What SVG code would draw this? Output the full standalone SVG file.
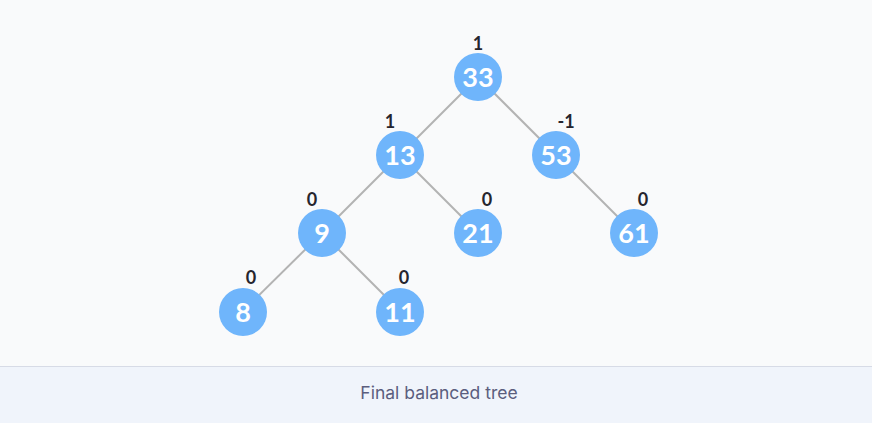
<svg xmlns="http://www.w3.org/2000/svg" width="872" height="423" viewBox="0 0 872 423">
<style>
.edge{stroke:#b3b3b3;stroke-width:2;fill:none}
.node circle{fill:#6fb5fb}
.node .v{font-family:Lato,"Liberation Sans",sans-serif;font-weight:700;font-size:27px;fill:#ffffff;text-anchor:middle}
.node .b{font-family:Lato,"Liberation Sans",sans-serif;font-weight:700;font-size:18px;fill:#25252e;text-anchor:middle}
.cap{font-family:Inter,"Noto Sans","Liberation Sans",sans-serif;font-size:17.5px;fill:#5b5e7e;text-anchor:middle}
</style>
<rect x="0" y="0" width="872" height="423" fill="#f9fafb"/>
<rect x="0" y="366" width="872" height="57" fill="#f0f4fb"/>
<line x1="0" y1="366.5" x2="872" y2="366.5" stroke="#d7dbe6" stroke-width="1"/>
<g id="connectors">
<line class="edge" x1="478" y1="77" x2="400" y2="155"/>
<line class="edge" x1="478" y1="77" x2="556" y2="155"/>
<line class="edge" x1="400" y1="155" x2="322" y2="233"/>
<line class="edge" x1="400" y1="155" x2="478" y2="233"/>
<line class="edge" x1="556" y1="155" x2="634" y2="233"/>
<line class="edge" x1="322" y1="233" x2="243" y2="311"/>
<line class="edge" x1="322" y1="233" x2="400" y2="311"/>
</g>
<g id="n33" class="node"><circle cx="478" cy="77" r="24"/><text class="v" x="478" y="87">33</text><text class="b" x="478" y="50">1</text></g>
<g id="n13" class="node"><circle cx="400" cy="155" r="24"/><text class="v" x="400" y="165">13</text><text class="b" x="390" y="128">1</text></g>
<g id="n53" class="node"><circle cx="556" cy="155" r="24"/><text class="v" x="556" y="165">53</text><text class="b" x="566" y="128">-1</text></g>
<g id="n9" class="node"><circle cx="322" cy="233" r="24"/><text class="v" x="322" y="243">9</text><text class="b" x="312" y="206">0</text></g>
<g id="n21" class="node"><circle cx="478" cy="233" r="24"/><text class="v" x="478" y="243">21</text><text class="b" x="487" y="206">0</text></g>
<g id="n61" class="node"><circle cx="634" cy="233" r="24"/><text class="v" x="634" y="243">61</text><text class="b" x="643" y="206">0</text></g>
<g id="n8" class="node"><circle cx="243" cy="312" r="24"/><text class="v" x="243" y="322">8</text><text class="b" x="251" y="284">0</text></g>
<g id="n11" class="node"><circle cx="400" cy="312" r="24"/><text class="v" x="400" y="322">11</text><text class="b" x="404" y="284">0</text></g>
<text class="cap" x="439" y="399">Final balanced tree</text>
</svg>
